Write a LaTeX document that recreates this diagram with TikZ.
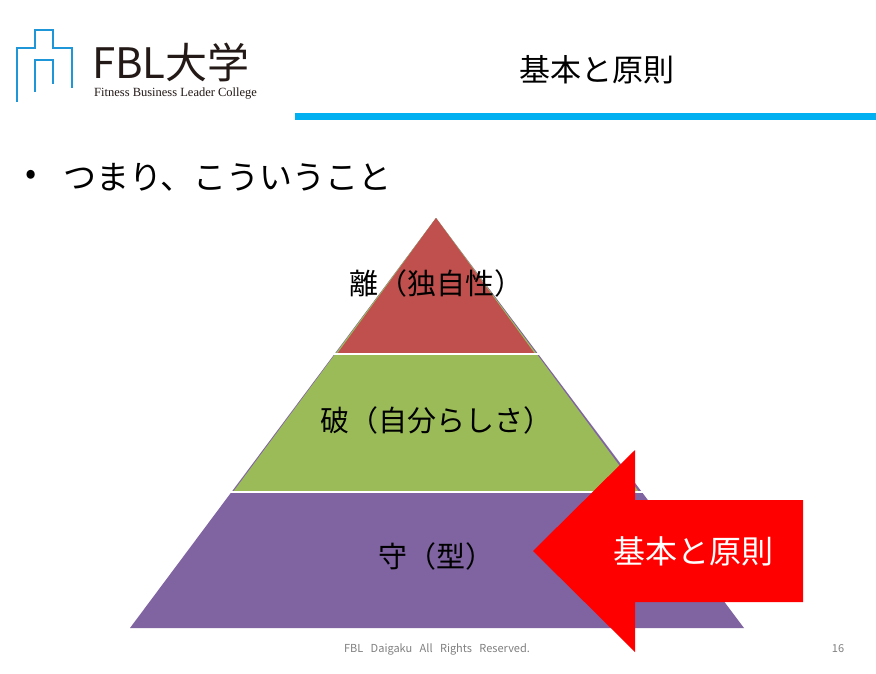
\documentclass[tikz,border=0pt]{standalone}
\usepackage{fontspec}
\setmainfont{Noto Sans CJK JP}
\newfontfamily\lat{Liberation Serif}
\begin{document}
\begin{tikzpicture}[x=1pt,y=-1pt,
 lbl/.style={font=\fontsize{29}{31}\selectfont,inner sep=0},
 band/.style={draw=white,line width=2.5pt}]
\useasboundingbox (0,0) rectangle (876,673);
\fill[white] (0,0) rectangle (876,673);
% logo
\draw[color={rgb,255:red,30;green,150;blue,215},line width=2.5pt]
 (17,102) -- (17,48) -- (35,48) -- (35,30) -- (53,30) -- (53,48) -- (72,48) -- (72,88);
\draw[color={rgb,255:red,30;green,150;blue,215},line width=2.5pt]
 (35,92) -- (35,60) -- (53,60) -- (53,84);
\node[anchor=west,inner sep=0,font=\fontsize{42}{44}\selectfont,color={rgb,255:red,35;green,25;blue,22}] (logo) at (92,62) {FBL大学};
\node[anchor=west,inner sep=0,font=\lat\fontsize{12.5}{13}\selectfont,color={rgb,255:red,35;green,25;blue,22}] (sub) at (94,94) {Fitness Business Leader College};
% title
\node[inner sep=0,font=\fontsize{31}{33}\selectfont] (title) at (597,70) {基本と原則};
\fill[color={rgb,255:red,0;green,176;blue,240}] (295,113) rectangle (876,120);
\node[anchor=west,inner sep=0,font=\fontsize{33}{35}\selectfont] (dot) at (25,177) {•};
\node[anchor=west,inner sep=0,font=\fontsize{33}{35}\selectfont] (bullet) at (63,177) {つまり、こういうこと};
% pyramid
\fill[color={rgb,255:red,128;green,100;blue,162}] (130,628) -- (744,628) -- (436,218) -- cycle;
\fill[color={rgb,255:red,155;green,187;blue,89}] (233,492) -- (639,492) -- (436,218) -- cycle;
\fill[color={rgb,255:red,192;green,80;blue,77}] (337,354) -- (535,354) -- (436,218) -- cycle;
\draw[band] (200,354) -- (680,354);
\draw[band] (150,492) -- (720,492);
\node[lbl] (l1) at (436,283) {離（独自性）};
\node[lbl] (l2) at (436,420) {破（自分らしさ）};
\node[lbl] (l3) at (436,556) {守（型）};
% arrow
\fill[red] (533,551) -- (635,450) -- (635,500) -- (803,500) -- (803,602) -- (635,602) -- (635,652) -- cycle;
\node[inner sep=0,white,font=\fontsize{32}{34}\selectfont] (al) at (693,551) {基本と原則};
% footer
\node[inner sep=0,font=\fontsize{11}{12}\selectfont,color=gray] (foot) at (437,649) {FBL\ \ \ Daigaku\ \ \ All\ \ \ Rights\ \ \ Reserved.};
\node[inner sep=0,font=\fontsize{11}{12}\selectfont,color=gray] (pg) at (838,649) {16};
\end{tikzpicture}
\end{document}
